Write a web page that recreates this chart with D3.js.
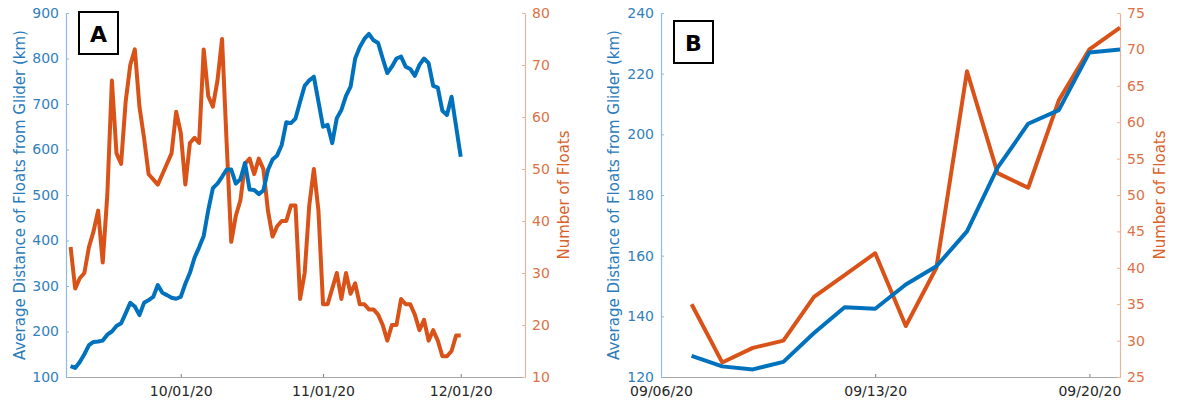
<!DOCTYPE html>
<html lang="en">
<head>
<meta charset="utf-8">
<title>Float distance and number of floats</title>
<script src="https://cdn.jsdelivr.net/npm/d3@7/dist/d3.min.js"></script>
<style>
  body { margin: 0; background: #fff; }
  svg text { font-family: "DejaVu Sans", sans-serif; }
</style>
</head>
<body>
<script>
// ---- data ----
// Panel A: daily values, 09/07/20 .. 12/01/20
var aStart = "2020-09-07", aEnd = "2020-12-01";
var aDistance = [124,120,133,150,170,177,178,180,193,200,212,218,240,263,255,236,263,269,276,302,
                 285,280,274,272,276,305,329,362,385,410,467,515,525,540,556,556,525,535,570,512,
                 511,502,510,555,578,587,610,660,658,668,705,740,752,760,705,650,654,614,669,687,
                 718,738,800,825,843,854,840,834,800,768,782,800,804,782,777,762,786,800,790,740,
                 736,685,676,716,650,584];
var aFloats = [35,27,29,30,35,38,42,32,45,67,53,51,63,70,73,62,56,49,48,47,
               49,51,53,61,57,47,55,56,55,73,64,62,67,75,55,36,41,44,51,52,
               49,52,50,42,37,39,40,40,43,43,25,30,43,50,42,24,24,27,30,25,
               30,26,28,24,24,23,23,22,20,17,20,20,25,24,24,22,19,21,17,19,
               17,14,14,15,18,18];
var aTicks = ["2020-10-01", "2020-11-01", "2020-12-01"];

// Panel B: daily values, 09/07/20 .. 09/21/20
var bStart = "2020-09-07", bEnd = "2020-09-21";
var bDistance = [127,123.5,122.5,125,134.5,143,142.5,150.5,156.5,168,189,203.5,208,227,228];
var bFloats = [35,27,29,30,36,39,42,32,40,67,53,51,63,70,73];
var bTicks = ["2020-09-06", "2020-09-13", "2020-09-20"];

var blue = "#0072BD", orange = "#D95319";

var W = 1178, H = 404;
var parse = d3.timeParse("%Y-%m-%d");
var fmt = d3.timeFormat("%m/%d/%y");

var svg = d3.select("body").append("svg")
  .attr("width", W).attr("height", H);

function panel(opt) {
  var dates = d3.timeDay.range(parse(opt.start), d3.timeDay.offset(parse(opt.end), 1));
  var x = d3.scaleTime().domain(opt.xDomain.map(parse)).range([opt.x0, opt.x1]);
  var yL = d3.scaleLinear().domain(opt.leftDomain).range([377, 13]);
  var yR = d3.scaleLinear().domain(opt.rightDomain).range([377, 13]);

  // bottom axis
  var gx = svg.append("g").attr("transform", "translate(0,377)")
    .call(d3.axisBottom(x).tickValues(opt.ticks.map(parse)).tickFormat(fmt)
      .tickSizeInner(-3).tickSizeOuter(0).tickPadding(9));
  gx.select(".domain").attr("stroke", "#a6a6a6").attr("stroke-width", 1.2);
  gx.selectAll(".tick line").attr("stroke", "#808080");
  gx.selectAll("text").attr("fill", "#262626").style("font-size", "14px");

  var gl = svg.append("g").attr("transform", "translate(" + opt.x0 + ",0)")
    .call(d3.axisLeft(yL).tickValues(opt.leftTicks).tickSizeInner(-3).tickSizeOuter(0).tickPadding(7));
  gl.select(".domain").attr("stroke", "#8dbadf").attr("stroke-width", 1.2);
  gl.selectAll(".tick line").attr("stroke", "#8dbadf");
  gl.selectAll("text").attr("fill", "#3380bd").style("font-size", "14px");

  var gr = svg.append("g").attr("transform", "translate(" + opt.x1 + ",0)")
    .call(d3.axisRight(yR).tickValues(opt.rightTicks).tickSizeInner(-3).tickSizeOuter(0).tickPadding(7));
  gr.select(".domain").attr("stroke", "#ebb49b").attr("stroke-width", 1.2);
  gr.selectAll(".tick line").attr("stroke", "#ebb49b");
  gr.selectAll("text").attr("fill", "#dc7245").style("font-size", "14px");

  // axis titles
  svg.append("text")
    .attr("transform", "translate(" + opt.leftLabelX + ",195) rotate(-90)")
    .attr("text-anchor", "middle").attr("dominant-baseline", "central")
    .attr("fill", "#2a7bbb").style("font-size", "15px")
    .text("Average Distance of Floats from Glider (km)");
  svg.append("text")
    .attr("transform", "translate(" + opt.rightLabelX + ",195) rotate(-90)")
    .attr("text-anchor", "middle").attr("dominant-baseline", "central")
    .attr("fill", "#d9622b").style("font-size", "15px")
    .text("Number of Floats");

  // lines
  var lineL = d3.line().x(function(d, i) { return x(dates[i]); }).y(function(d) { return yL(d); });
  var lineR = d3.line().x(function(d, i) { return x(dates[i]); }).y(function(d) { return yR(d); });

  svg.append("path").datum(opt.floats)
    .attr("d", lineR).attr("fill", "none").attr("stroke", orange)
    .attr("stroke-width", 4).attr("stroke-linejoin", "round");
  svg.append("path").datum(opt.distance)
    .attr("d", lineL).attr("fill", "none").attr("stroke", blue)
    .attr("stroke-width", 4).attr("stroke-linejoin", "round");

  // panel letter box
  var b = opt.box;
  svg.append("rect").attr("x", b[0]).attr("y", b[1]).attr("width", 39).attr("height", 42)
    .attr("fill", "#fff").attr("stroke", "#000").attr("stroke-width", 2);
  svg.append("text").attr("x", b[0] + 19.5).attr("y", b[1] + 22)
    .attr("text-anchor", "middle").attr("dominant-baseline", "central")
    .style("font-size", "22px").style("font-weight", "bold").text(opt.letter);
}

panel({
  start: aStart, end: aEnd, distance: aDistance, floats: aFloats,
  xDomain: ["2020-09-06", "2020-12-15"], ticks: aTicks,
  x0: 66, x1: 525,
  leftDomain: [100, 900], leftTicks: d3.range(100, 901, 100),
  rightDomain: [10, 80], rightTicks: d3.range(10, 81, 10),
  leftLabelX: 20, rightLabelX: 564,
  box: [79, 12], letter: "A"
});

panel({
  start: bStart, end: bEnd, distance: bDistance, floats: bFloats,
  xDomain: ["2020-09-06", "2020-09-21"], ticks: bTicks,
  x0: 661, x1: 1120,
  leftDomain: [120, 240], leftTicks: d3.range(120, 241, 20),
  rightDomain: [25, 75], rightTicks: d3.range(25, 76, 5),
  leftLabelX: 614, rightLabelX: 1160,
  box: [674, 21], letter: "B"
});
</script>
</body>
</html>
